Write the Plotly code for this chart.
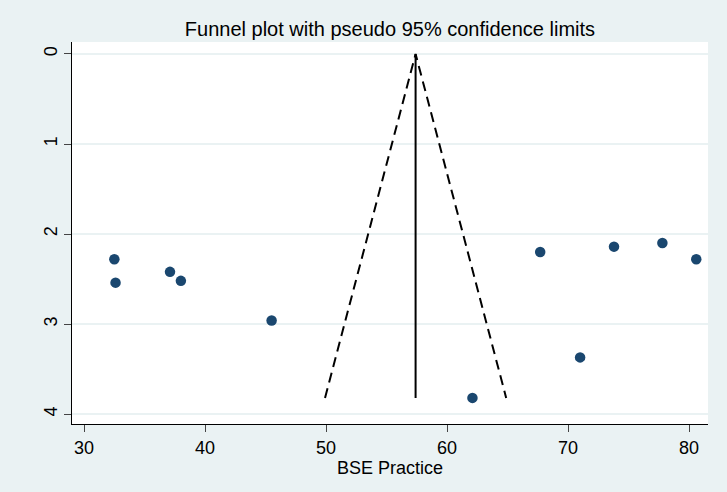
import plotly.graph_objects as go

# Study effect sizes (BSE practice, %) and their standard errors
effect = [32.5, 32.6, 37.1, 38.0, 45.5, 62.1, 67.7, 71.0, 73.8, 77.8, 80.6]
std_err = [2.28, 2.54, 2.42, 2.52, 2.96, 3.82, 2.20, 3.37, 2.14, 2.10, 2.28]

pooled = 57.4
max_se = max(std_err)
z = 1.96

x_ticks = [30, 40, 50, 60, 70, 80]
y_ticks = [0, 1, 2, 3, 4]

BG = "#eaf2f3"
FONT = "Liberation Sans, Arial, Helvetica, sans-serif"

fig = go.Figure()

# pseudo 95% limits
fig.add_trace(go.Scatter(
    x=[pooled - z * max_se, pooled, pooled + z * max_se],
    y=[max_se, 0, max_se],
    mode="lines",
    line=dict(color="black", width=2, dash="10px,6px"),
    hoverinfo="skip", showlegend=False))

# pooled estimate
fig.add_trace(go.Scatter(
    x=[pooled, pooled], y=[0, max_se],
    mode="lines",
    line=dict(color="black", width=2),
    hoverinfo="skip", showlegend=False))

# studies
fig.add_trace(go.Scatter(
    x=effect, y=std_err, mode="markers",
    marker=dict(color="#1a476f", size=10.5, line=dict(width=0)),
    showlegend=False))

fig.update_layout(
    width=727, height=492,
    margin=dict(l=72, r=19, t=42, b=68),
    paper_bgcolor=BG, plot_bgcolor="white",
    font=dict(family=FONT, size=18, color="black"),
    title=dict(text="Funnel plot with pseudo 95% confidence limits",
               x=0.5364, xanchor="center", y=0.941, yanchor="middle",
               font=dict(family=FONT, size=20, color="black")),
    xaxis=dict(
        range=[29.0, 81.57], tickvals=x_ticks, ticktext=[str(v) for v in x_ticks],
        showgrid=False, zeroline=False,
        showline=True, linecolor="black", linewidth=1.3,
        ticks="outside", ticklen=7, tickwidth=1.3, tickcolor="#444",
        tickfont=dict(size=18),
        title=dict(text="BSE Practice", font=dict(size=18), standoff=0),
    ),
    yaxis=dict(
        range=[4.11, -0.133], tickvals=y_ticks, ticktext=[str(v) for v in y_ticks],
        tickangle=-90,
        showgrid=True, gridcolor=BG, gridwidth=1.5, zeroline=False,
        showline=True, linecolor="black", linewidth=1.3,
        ticks="outside", ticklen=7, tickwidth=1.3, tickcolor="#444",
        tickfont=dict(size=18),
    ),
)

fig.write_html("out.html", config={"displayModeBar": False},
               post_script="document.body.style.margin='0';")
